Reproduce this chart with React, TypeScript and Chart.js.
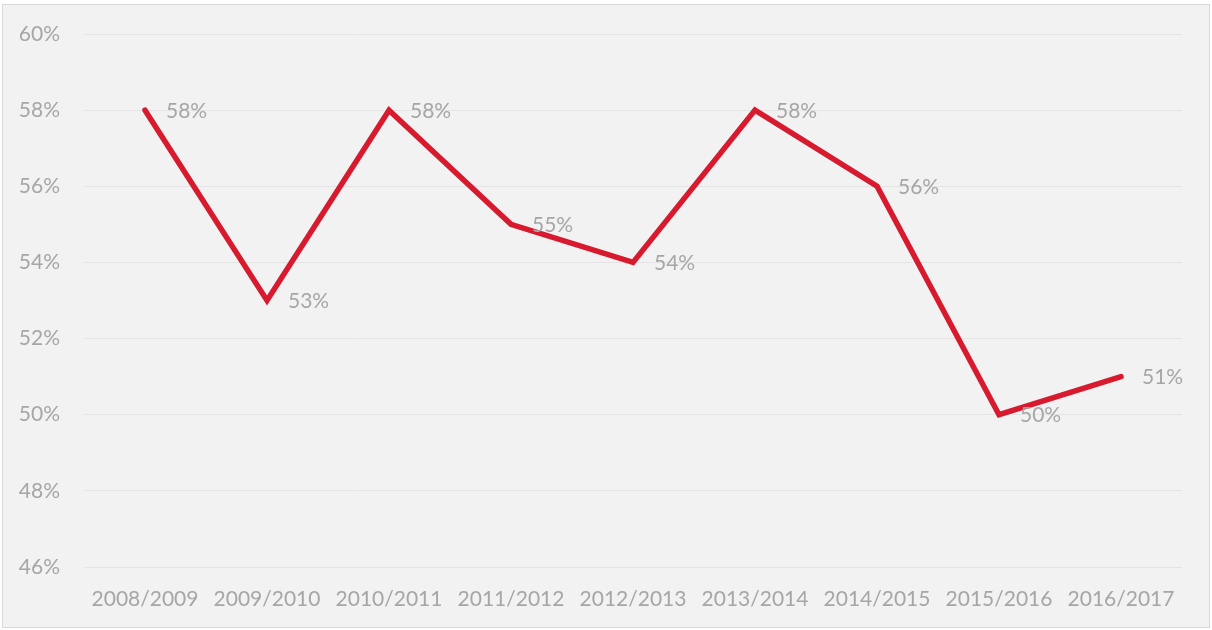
import React, { useEffect, useRef } from "react";
import { Chart, registerables } from "chart.js";

Chart.register(...registerables);

const categories = ["2008/2009", "2009/2010", "2010/2011", "2011/2012", "2012/2013", "2013/2014", "2014/2015", "2015/2016", "2016/2017"];
const values = [58, 53, 58, 55, 54, 58, 56, 50, 51];
const yMin = 46;
const yMax = 60;
const yStep = 2;

const FONT = "Lato, 'Open Sans', sans-serif";
const TEXT = "#a6a6a6";

const labelPlugin = {
  id: "pointLabels",
  afterDatasetsDraw(chart: any) {
    const ctx = chart.ctx;
    const meta = chart.getDatasetMeta(0);
    ctx.save();
    ctx.font = `21px ${FONT}`;
    ctx.fillStyle = TEXT;
    ctx.textAlign = "left";
    ctx.textBaseline = "middle";
    meta.data.forEach((pt: any, i: number) => {
      ctx.fillText(values[i] + "%", pt.x + 21, pt.y + 1);
    });
    ctx.restore();
  },
};

export default function App() {
  const ref = useRef<HTMLCanvasElement>(null);
  useEffect(() => {
    if (!ref.current) return;
    const chart = new Chart(ref.current, {
      type: "line",
      data: {
        labels: categories,
        datasets: [
          {
            data: values,
            borderColor: "#d71a2e",
            borderWidth: 5.5,
            pointRadius: 0,
            tension: 0,
            fill: false,
            borderCapStyle: "round",
            borderJoinStyle: "miter",
          },
        ],
      },
      options: {
        animation: false,
        responsive: false,
        maintainAspectRatio: false,
        layout: { padding: { top: 34, right: 30, left: 0, bottom: 0 } },
        plugins: { legend: { display: false }, tooltip: { enabled: false } },
        scales: {
          x: {
            offset: true,
            grid: { display: false, drawTicks: false },
            border: { display: false },
            ticks: { color: TEXT, font: { family: FONT, size: 21 }, padding: 20, maxRotation: 0, autoSkip: false },
            afterFit: (s: any) => { s.height = 63; },
          },
          y: {
            min: yMin,
            max: yMax,
            grid: { color: "#e4e4e4", lineWidth: 1, drawTicks: false },
            border: { display: false },
            ticks: {
              stepSize: yStep,
              color: TEXT,
              font: { family: FONT, size: 21 },
              padding: 24,
              callback: (v: any) => v + "%",
            },
            afterFit: (s: any) => {
              s.width = 84;
              s.paddingTop = 0;
              s.paddingBottom = 0;
            },
          },
        },
      },
      plugins: [labelPlugin],
    });
    return () => chart.destroy();
  }, []);
  return (
    <div style={{ position: "absolute", left: 0, top: 0, width: 1212, height: 630, background: "#ffffff" }}>
      <div
        style={{
          position: "absolute",
          left: 2,
          top: 4,
          width: 1206,
          height: 622,
          background: "#f2f2f2",
          border: "1px solid #d9d9d9",
        }}
      />
      <canvas ref={ref} width={1212} height={630} style={{ position: "absolute", left: 0, top: 0 }} />
    </div>
  );
}
